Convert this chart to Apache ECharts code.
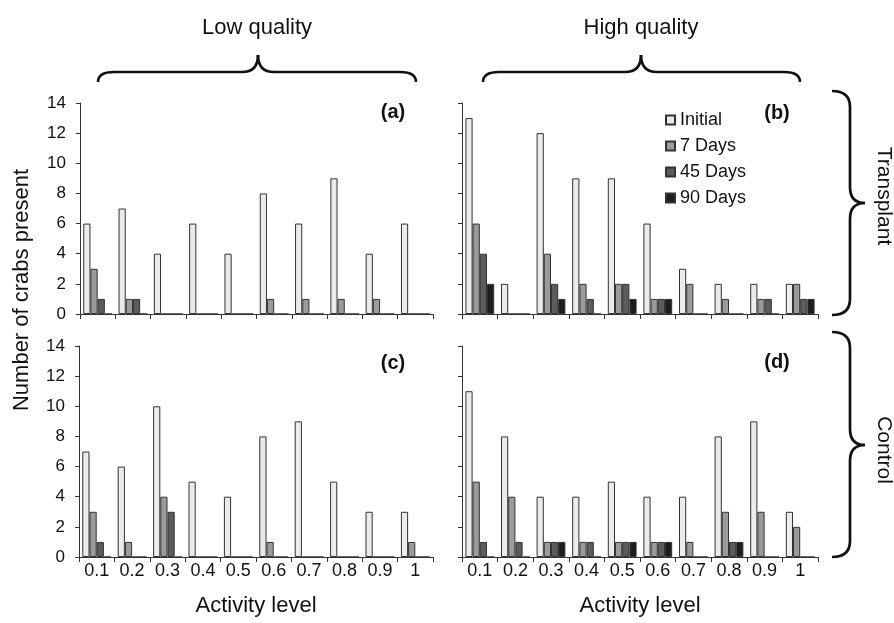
<!DOCTYPE html>
<html>
<head>
<meta charset="utf-8">
<script src="https://cdn.jsdelivr.net/npm/echarts@6/dist/echarts.min.js"></script>
<style>
html,body{margin:0;padding:0;background:#fff;}
#chart{width:894px;height:623px;}
</style>
</head>
<body>
<div id="chart"></div>
<script>
var categories = ['0.1','0.2','0.3','0.4','0.5','0.6','0.7','0.8','0.9','1'];
var seriesNames = ['Initial','7 Days','45 Days','90 Days'];
var yTicks = [0,2,4,6,8,10,12,14];

// (a) Low quality, Transplant
var lowTransplantInitial = [6,7,4,6,4,8,6,9,4,6];
var lowTransplant7 = [3,1,0,0,0,1,1,1,1,0];
var lowTransplant45 = [1,1,0,0,0,0,0,0,0,0];
var lowTransplant90 = [0,0,0,0,0,0,0,0,0,0];

// (b) High quality, Transplant
var highTransplantInitial = [13,2,12,9,9,6,3,2,2,2];
var highTransplant7 = [6,0,4,2,2,1,2,1,1,2];
var highTransplant45 = [4,0,2,1,2,1,0,0,1,1];
var highTransplant90 = [2,0,1,0,1,1,0,0,0,1];

// (c) Low quality, Control
var lowControlInitial = [7,6,10,5,4,8,9,5,3,3];
var lowControl7 = [3,1,4,0,0,1,0,0,0,1];
var lowControl45 = [1,0,3,0,0,0,0,0,0,0];
var lowControl90 = [0,0,0,0,0,0,0,0,0,0];

// (d) High quality, Control
var highControlInitial = [11,8,4,4,5,4,4,8,9,3];
var highControl7 = [5,4,1,1,1,1,1,3,3,2];
var highControl45 = [1,1,1,1,1,1,0,1,0,0];
var highControl90 = [0,0,1,0,1,1,0,1,0,0];

var panels = [
  [lowTransplantInitial, lowTransplant7, lowTransplant45, lowTransplant90],
  [highTransplantInitial, highTransplant7, highTransplant45, highTransplant90],
  [lowControlInitial, lowControl7, lowControl45, lowControl90],
  [highControlInitial, highControl7, highControl45, highControl90]
];
var panelLabels = ['(a)','(b)','(c)','(d)'];

var FONT = 'Liberation Sans, Arial, sans-serif';
var colors = ['#ebebeb','#9b9b9b','#5c5c5c','#1e1e1e'];
var grids = [
  {left:80, top:103, width:353, height:211},
  {left:462, top:103, width:356, height:211},
  {left:79, top:346, width:354, height:211},
  {left:462, top:346, width:356, height:211}
];

var xAxes = [], yAxes = [], series = [];
for (var p = 0; p < 4; p++) {
  var bottomRow = p >= 2;
  var leftCol = (p % 2) === 0;
  xAxes.push({
    type:'category', gridIndex:p, data:categories, boundaryGap:true,
    axisLine:{show:true, lineStyle:{color:'#333', width:1}},
    axisTick:{show:true, length:5, inside:false, alignWithLabel:false, lineStyle:{color:'#333'}},
    axisLabel:{show:bottomRow, fontSize:18, color:'#111', margin:5, fontFamily:FONT, interval:0},
    name: bottomRow ? 'Activity level' : '',
    nameLocation:'middle', nameGap:38,
    nameTextStyle:{fontSize:22, color:'#111', fontFamily:FONT},
    splitLine:{show:false}
  });
  yAxes.push({
    type:'value', gridIndex:p, min:0, max:14, interval:2,
    axisLine:{show:true, lineStyle:{color:'#333', width:1}},
    axisTick:{show:true, length:4, inside:false, lineStyle:{color:'#333'}},
    axisLabel:{show:leftCol, fontSize:17, color:'#111', margin:14, fontFamily:FONT,
      formatter:function(v){ return yTicks.indexOf(v) >= 0 ? String(v) : ''; }},
    splitLine:{show:false}
  });
  for (var s = 0; s < 4; s++) {
    series.push({
      type:'bar', name:seriesNames[s], xAxisIndex:p, yAxisIndex:p,
      data:panels[p][s], barWidth:7.2, barGap:'0%',
      itemStyle:{color:colors[s], borderColor:'#333', borderWidth:1},
      emphasis:{disabled:true}
    });
  }
}

var graphics = [];
var labelPos = [[393,112],[777,113],[393,363],[777,362]];
for (var i = 0; i < 4; i++) {
  graphics.push({type:'text', x:labelPos[i][0], y:labelPos[i][1],
    style:{text:panelLabels[i], fontSize:20, fontWeight:'bold', fontFamily:FONT, fill:'#111',
      textAlign:'center', textVerticalAlign:'middle'}});
}
graphics.push({type:'text', x:22, y:290, rotation:Math.PI/2,
  style:{text:'Number of crabs present', fontSize:22, fontFamily:FONT, fill:'#111',
    textAlign:'center', textVerticalAlign:'middle'}});
graphics.push({type:'text', x:257, y:28,
  style:{text:'Low quality', fontSize:22, fontFamily:FONT, fill:'#111', textAlign:'center', textVerticalAlign:'middle'}});
graphics.push({type:'text', x:641, y:28,
  style:{text:'High quality', fontSize:22, fontFamily:FONT, fill:'#111', textAlign:'center', textVerticalAlign:'middle'}});
graphics.push({type:'text', x:884, y:196, rotation:-Math.PI/2,
  style:{text:'Transplant', fontSize:21, fontFamily:FONT, fill:'#111', textAlign:'center', textVerticalAlign:'middle'}});
graphics.push({type:'text', x:884, y:450, rotation:-Math.PI/2,
  style:{text:'Control', fontSize:21, fontFamily:FONT, fill:'#111', textAlign:'center', textVerticalAlign:'middle'}});

var braceStyle = {stroke:'#111', lineWidth:2.7, fill:null};
var R = 16;
function curve(x1, y1, cx, cy, x2, y2) {
  graphics.push({type:'bezierCurve', shape:{x1:x1, y1:y1, x2:x2, y2:y2, cpx1:cx, cpy1:cy}, style:braceStyle});
}
function seg(x1, y1, x2, y2) {
  graphics.push({type:'line', shape:{x1:x1, y1:y1, x2:x2, y2:y2}, style:braceStyle});
}
function hBrace(x1, x2, xm, yTip, yLine, yPeak) {
  curve(x1, yTip, x1, yLine, x1 + R, yLine);
  seg(x1 + R, yLine, xm - R, yLine);
  curve(xm - R, yLine, xm, yLine, xm, yPeak);
  curve(xm, yPeak, xm, yLine, xm + R, yLine);
  seg(xm + R, yLine, x2 - R, yLine);
  curve(x2 - R, yLine, x2, yLine, x2, yTip);
}
function vBrace(y1, y2, ym, xTip, xLine, xPeak) {
  curve(xTip, y1, xLine, y1, xLine, y1 + R);
  seg(xLine, y1 + R, xLine, ym - R);
  curve(xLine, ym - R, xLine, ym, xPeak, ym);
  curve(xPeak, ym, xLine, ym, xLine, ym + R);
  seg(xLine, ym + R, xLine, y2 - R);
  curve(xLine, y2 - R, xLine, y2, xTip, y2);
}
hBrace(98, 416, 258, 82, 72, 55);
hBrace(483, 800, 641, 82, 72, 55);
vBrace(91, 315, 203, 832, 850, 865);
vBrace(332, 557, 445, 832, 850, 865);

var chart = echarts.init(document.getElementById('chart'), null, {renderer:'canvas'});
chart.setOption({
  animation:false,
  backgroundColor:'#fff',
  textStyle:{fontFamily:FONT},
  grid:grids,
  xAxis:xAxes,
  yAxis:yAxes,
  legend:{
    data:seriesNames, orient:'vertical', left:665, top:111,
    itemWidth:9, itemHeight:9, itemGap:8, padding:0, selectedMode:false,
    icon:'rect',
    textStyle:{fontSize:18, color:'#111', fontFamily:FONT}
  },
  series:series,
  graphic:graphics
});
</script>
</body>
</html>
